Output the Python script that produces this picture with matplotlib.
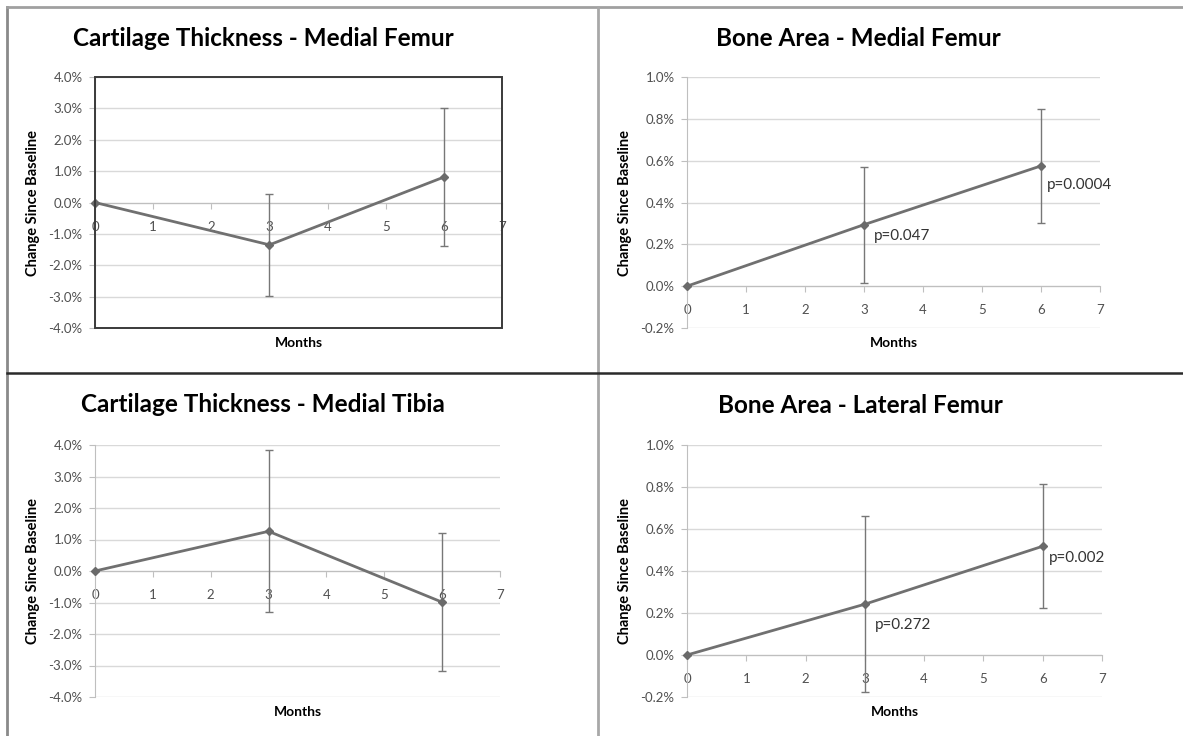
import matplotlib
matplotlib.use("Agg")
import matplotlib.pyplot as plt
from matplotlib.lines import Line2D
from matplotlib.patches import Rectangle

plt.rcParams['font.family'] = ['Lato', 'DejaVu Sans']

# months measured
months = [0, 3, 6]

# cartilage thickness, % change since baseline
ct_femur = [0.0, -1.35, 0.81]
ct_femur_err = [0.0, 1.62, 2.19]
ct_tibia = [0.0, 1.26, -0.99]
ct_tibia_err = [0.0, 2.57, 2.20]

# bone area, % change since baseline
ba_medial = [0.0, 0.294, 0.575]
ba_medial_err = [0.0, 0.278, 0.273]
ba_lateral = [0.0, 0.242, 0.518]
ba_lateral_err = [0.0, 0.42, 0.295]

# p-value labels and where they sit
p_medial = ["p=0.047", "p=0.0004"]
p_medial_pos = [(3.17, 0.238), (6.1, 0.486)]
p_lateral = ["p=0.272", "p=0.002"]
p_lateral_pos = [(3.17, 0.144), (6.1, 0.464)]

ct_ticks = [-4, -3, -2, -1, 0, 1, 2, 3, 4]
ba_ticks = [-0.2, 0.0, 0.2, 0.4, 0.6, 0.8, 1.0]

W, H = 1183, 736
fig = plt.figure(figsize=(W / 100, H / 100), dpi=100)


def px_axes(left, top, right, bottom):
    return fig.add_axes([left / W, 1 - bottom / H, (right - left) / W, (bottom - top) / H])


def draw_panel(ax, y, err, ticks, title, cx, ty, framed=False):
    lines = ax.errorbar(months, y, yerr=err, color='#707070', lw=2, marker='D', ms=4,
                        mfc='#6a6a6a', mec='#6a6a6a', ecolor='#777777', elinewidth=1,
                        capsize=3, capthick=1, zorder=3)
    lines.lines[0].set_clip_on(False)
    ax.set_xlim(0, 7)
    ax.set_ylim(ticks[0], ticks[-1])
    ax.set_yticks(ticks)
    ax.set_yticklabels([f"{t:.1f}%" for t in ticks])
    ax.set_xticks(range(8))
    ax.grid(axis='y', color='#d9d9d9', lw=1)
    ax.set_axisbelow(True)
    ax.spines['top'].set_visible(False)
    ax.spines['right'].set_visible(False)
    ax.spines['left'].set_color('#bfbfbf')
    ax.spines['bottom'].set_position(('data', 0))
    ax.spines['bottom'].set_color('#bfbfbf')
    ax.tick_params(axis='both', colors='#bfbfbf', labelcolor='#505050', labelsize=9.5, length=4)
    ax.tick_params(axis='x', pad=9)
    ax.tick_params(axis='y', pad=5)
    if framed:
        ax.add_patch(Rectangle((0, 0), 1, 1, transform=ax.transAxes, fill=False,
                               ec='#3a3a3a', lw=1.4, clip_on=False, zorder=4))
    # title, axis labels in figure coordinates
    bb = ax.get_position()
    fig.text(cx / W, 1 - ty / H, title, ha='center', va='center',
             fontsize=17.5, fontweight='bold', color='black')
    fig.text(bb.x0 - 62 / W, (bb.y0 + bb.y1) / 2, "Change Since Baseline", rotation=90,
             ha='center', va='center', fontsize=10.5, fontweight='bold')
    fig.text((bb.x0 + bb.x1) / 2, bb.y0 - 15 / H, "Months", ha='center', va='center',
             fontsize=10, fontweight='bold')


ax1 = px_axes(95, 77, 502, 328)
draw_panel(ax1, ct_femur, ct_femur_err, ct_ticks,
           "Cartilage Thickness - Medial Femur", 263, 38, framed=True)

ax2 = px_axes(687, 77, 1100, 328)
draw_panel(ax2, ba_medial, ba_medial_err, ba_ticks,
           "Bone Area - Medial Femur", 858, 39)
for lab, (px, py) in zip(p_medial, p_medial_pos):
    ax2.text(px, py, lab, fontsize=11, color='#333333', va='center', ha='left')

ax3 = px_axes(95, 445, 500, 697)
draw_panel(ax3, ct_tibia, ct_tibia_err, ct_ticks,
           "Cartilage Thickness - Medial Tibia", 263, 405)

ax4 = px_axes(687, 445, 1102, 697)
draw_panel(ax4, ba_lateral, ba_lateral_err, ba_ticks,
           "Bone Area - Lateral Femur", 860, 406)
for lab, (px, py) in zip(p_lateral, p_lateral_pos):
    ax4.text(px, py, lab, fontsize=11, color='#333333', va='center', ha='left')

# table borders around the four cells
fig.add_artist(Line2D([7 / W, 7 / W], [0, 1 - 7 / H], color='#8a8a8a', lw=2))
fig.add_artist(Line2D([7 / W, 1], [1 - 7 / H, 1 - 7 / H], color='#a0a0a0', lw=2))
fig.add_artist(Line2D([598 / W, 598 / W], [0, 1 - 7 / H], color='#a8a8a8', lw=2))
fig.add_artist(Line2D([7 / W, 1], [1 - 373 / H, 1 - 373 / H], color='#2a2a2a', lw=1.8))

fig.savefig("out.png", dpi=100)
